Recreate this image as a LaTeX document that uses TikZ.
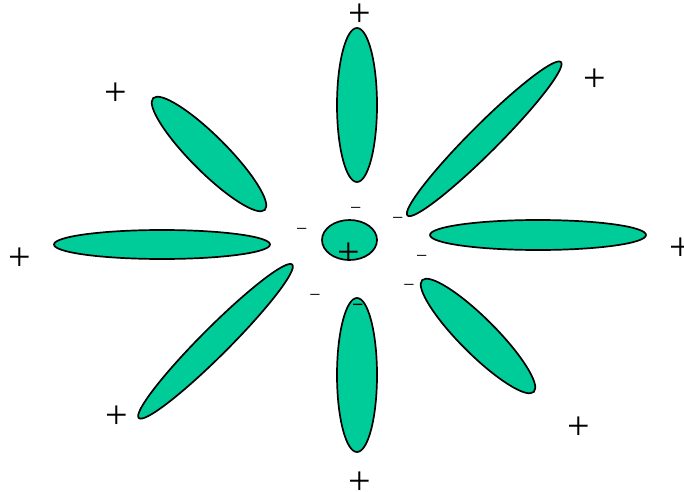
\documentclass[tikz,border=0pt]{standalone}
\usepackage{fontspec}
\setmainfont{Liberation Serif}
\definecolor{petal}{RGB}{0,204,153}
\tikzset{
  petal/.style={draw=black, fill=petal, line width=1.7pt},
  plussign/.style={inner sep=0pt, font=\fontsize{40}{40}\selectfont},
  minussign/.style={inner sep=0pt, font=\fontsize{20}{20}\selectfont},
  boldminus/.style={inner sep=0pt, font=\fontsize{20}{20}\selectfont\bfseries},
}
\begin{document}
\begin{tikzpicture}[x=1pt,y=1pt]
\useasboundingbox (0,0) rectangle (684,491);
% petals
\draw[petal] (357,386) ellipse [x radius=20, y radius=77];
\draw[petal] (357,116) ellipse [x radius=20, y radius=77];
\draw[petal] (162,246.5) ellipse [x radius=108, y radius=14.5];
\draw[petal] (538,256) ellipse [x radius=108, y radius=15];
\draw[petal, rotate around={45:(484.2,352.2)}] (484.2,352.2) ellipse [x radius=108.5, y radius=14];
\draw[petal, rotate around={45:(215.5,149.7)}] (215.5,149.7) ellipse [x radius=108.5, y radius=14];
\draw[petal, rotate around={-45:(209,337)}] (209,337) ellipse [x radius=79, y radius=18];
\draw[petal, rotate around={-45:(478,155)}] (478,155) ellipse [x radius=79, y radius=18];
\draw[petal] (349.5,251) ellipse [x radius=27.5, y radius=20];
% plus signs
\node[plussign] (pt) at (360,476) {+};
\node[plussign] (pb) at (360,8) {+};
\node[plussign] (pl) at (20,232) {+};
\node[plussign] (pr) at (681,242) {+};
\node[plussign] (pul) at (116,397) {+};
\node[plussign] (pur) at (595,411) {+};
\node[plussign] (pll) at (117,74) {+};
\node[plussign] (plr) at (579,63) {+};
\node[plussign] (pc) at (349,237) {+};
% minus signs
\node[minussign] (m1) at (355.7,280.3) {−};
\node[minussign] (m2) at (397.7,270.3) {−};
\node[minussign] (m3) at (301.7,258.7) {−};
\node[minussign] (m4) at (421.7,232) {−};
\node[minussign] (m5) at (409,202.7) {−};
\node[minussign] (m6) at (315,192.7) {−};
\node[boldminus] (m7) at (357.8,183) {−};
\end{tikzpicture}
\end{document}
